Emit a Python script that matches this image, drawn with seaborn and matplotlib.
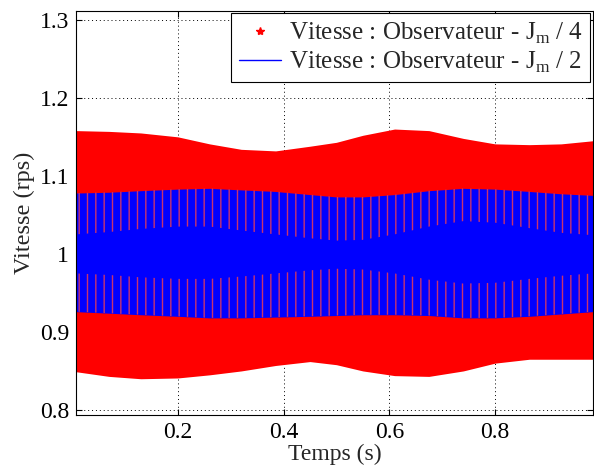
import numpy as np
import pandas as pd
import matplotlib
matplotlib.use("Agg")
import matplotlib.pyplot as plt
from matplotlib.lines import Line2D
import seaborn as sns

# envelope of the two speed signals
t = [0.0075, 0.07, 0.13, 0.2, 0.26, 0.32, 0.385, 0.45, 0.5, 0.55,
     0.61, 0.675, 0.74, 0.8, 0.865, 0.925, 0.985]
red_upper = [1.158, 1.157, 1.155, 1.150, 1.141, 1.134, 1.132, 1.138, 1.143, 1.152,
             1.160, 1.158, 1.148, 1.141, 1.140, 1.141, 1.145]
red_lower = [0.849, 0.843, 0.840, 0.841, 0.845, 0.850, 0.857, 0.862, 0.858, 0.850,
             0.844, 0.843, 0.850, 0.860, 0.865, 0.865, 0.865]
blue_upper = [1.078, 1.079, 1.081, 1.083, 1.084, 1.082, 1.080, 1.076, 1.073, 1.073,
              1.076, 1.081, 1.084, 1.083, 1.080, 1.077, 1.075]
blue_lower = [0.926, 0.924, 0.922, 0.920, 0.918, 0.918, 0.919, 0.920, 0.921, 0.922,
              0.922, 0.921, 0.918, 0.918, 0.920, 0.923, 0.926]
# dense (solid blue) core of the blue oscillation
core_upper = [1.025, 1.028, 1.032, 1.035, 1.035, 1.030, 1.025, 1.020, 1.017, 1.018,
              1.025, 1.035, 1.042, 1.040, 1.033, 1.027, 1.024]
core_lower = [0.975, 0.973, 0.970, 0.968, 0.968, 0.971, 0.975, 0.979, 0.981, 0.980,
              0.975, 0.967, 0.962, 0.963, 0.968, 0.972, 0.975]

xticks = [0.2, 0.4, 0.6, 0.8]
yticks = [0.8, 0.9, 1.0, 1.1, 1.2, 1.3]
ytick_labels = ["0.8", "0.9", "1", "1.1", "1.2", "1.3"]

label_red = r"Vitesse : Observateur - J$_{\mathregular{m}}$ / 4"
label_blue = r"Vitesse : Observateur - J$_{\mathregular{m}}$ / 2"


def band_frame(x, lo, hi):
    # long form: two rows per time, seaborn's min-max interval gives the band
    return pd.DataFrame({"t": list(x) * 2, "v": list(lo) + list(hi)})


sns.set_style("ticks")
plt.rcParams["font.family"] = ["Liberation Serif", "DejaVu Serif"]
plt.rcParams["mathtext.fontset"] = "custom"
plt.rcParams["mathtext.rm"] = "Liberation Serif"
plt.rcParams["hatch.linewidth"] = 1.0

fig = plt.figure(figsize=(5.94, 4.71), dpi=100)
ax = fig.add_axes([0.128, 0.119, 0.870, 0.858])

# red stars signal
sns.lineplot(data=band_frame(t, red_lower, red_upper), x="t", y="v",
             errorbar=("pi", 100), color="#ff0000", linewidth=0,
             err_kws={"alpha": 1, "linewidth": 0}, ax=ax)
# blue line signal
sns.lineplot(data=band_frame(t, blue_lower, blue_upper), x="t", y="v",
             errorbar=("pi", 100), color="#0000ff", linewidth=0,
             err_kws={"alpha": 1, "linewidth": 0}, ax=ax)

# red showing through the gaps of the blue oscillation
stripe = "#c8346e"
ax.fill_between(t, core_upper, blue_upper, facecolor="none", edgecolor=stripe,
                hatch="||", linewidth=0, zorder=3)
ax.fill_between(t, blue_lower, core_lower, facecolor="none", edgecolor=stripe,
                hatch="||", linewidth=0, zorder=3)

ax.set_xlim(0.0075, 0.985)
ax.set_ylim(0.7936, 1.3115)
ax.set_xticks(xticks)
ax.set_xticklabels([f"{v:g}" for v in xticks])
ax.set_yticks(yticks)
ax.set_yticklabels(ytick_labels)

ax.set_axisbelow(True)
ax.grid(True, color="black", linestyle=(0, (1, 3)), linewidth=0.7)
for s in ax.spines.values():
    s.set_visible(True)
    s.set_color("black")
    s.set_linewidth(0.8)
ax.tick_params(direction="in", top=True, right=True, length=4, width=0.8,
               labelsize=17, pad=5, colors="black")

ax.set_xlabel("Temps (s)", fontsize=17, labelpad=1)
ax.set_ylabel("Vitesse (rps)", fontsize=17.5, labelpad=3)

handles = [
    Line2D([], [], color="#ff0000", marker="*", linestyle="none", markersize=6),
    Line2D([], [], color="#0000ff", linewidth=1),
]
leg = ax.legend(handles, [label_red, label_blue], loc="upper right",
                fontsize=18, frameon=True, fancybox=False, framealpha=1,
                edgecolor="black", borderaxespad=0.1, handlelength=1.7,
                handletextpad=0.3, borderpad=0.3, labelspacing=0.15)
leg.get_frame().set_linewidth(0.8)

fig.savefig("out.png", dpi=100)
